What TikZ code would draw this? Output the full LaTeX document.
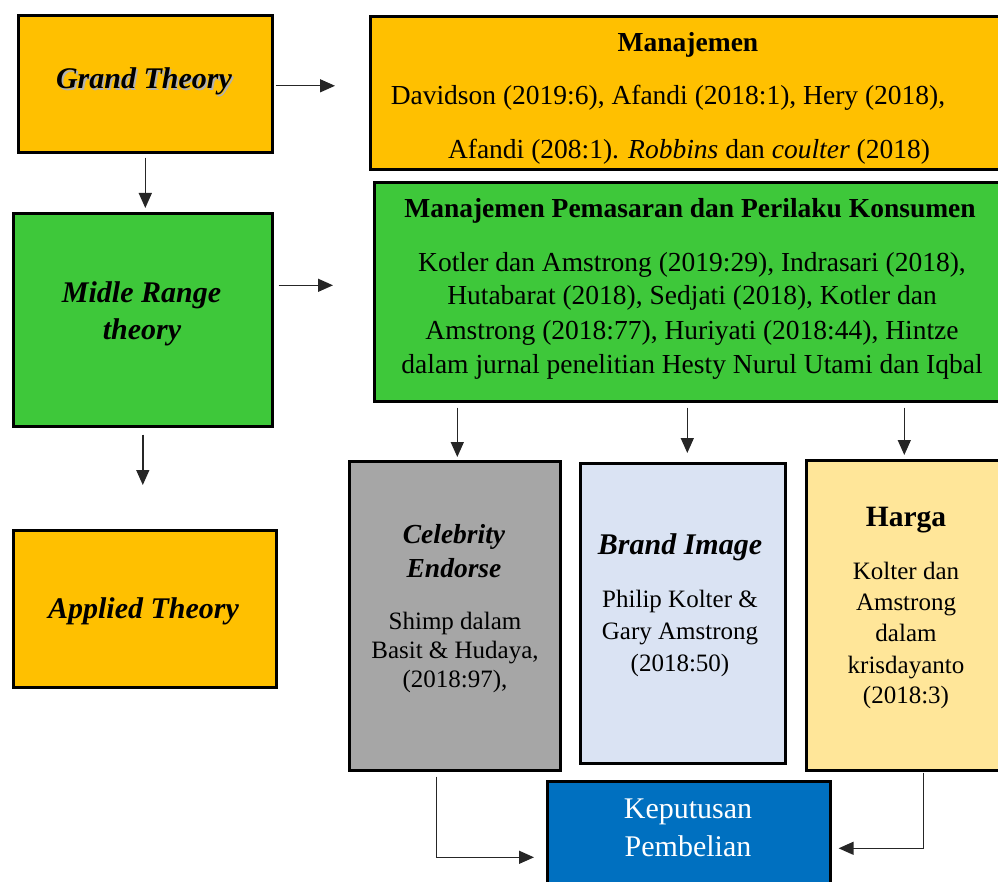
\documentclass[tikz,border=0pt]{standalone}
\usepackage{fontspec}
\setmainfont{Liberation Serif}
\usetikzlibrary{arrows.meta}
\definecolor{gold}{RGB}{255,192,0}
\definecolor{grn}{RGB}{62,200,58}
\definecolor{gry}{RGB}{166,166,166}
\definecolor{lblue}{RGB}{218,227,243}
\definecolor{lyel}{RGB}{255,230,153}
\definecolor{kblue}{RGB}{0,112,192}
\begin{document}
\begin{tikzpicture}[x=1pt,y=-1pt,
  box/.style={draw=black, line width=2.6pt, inner sep=0pt, anchor=north west},
  txt/.style={anchor=base, inner sep=0pt},
  fA/.style={font=\fontsize{30}{36}\selectfont\bfseries\itshape},
  fC/.style={font=\fontsize{27.5}{33}\selectfont\bfseries\itshape},
  fH/.style={font=\fontsize{27.5}{33}\selectfont\bfseries},
  fHH/.style={font=\fontsize{29.5}{35}\selectfont\bfseries},
  fB/.style={font=\fontsize{27.5}{33}\selectfont},
  fS/.style={font=\fontsize{25}{30}\selectfont},
  fK/.style={font=\fontsize{30}{36}\selectfont},
  arr/.style={-{Triangle[length=15pt,width=13pt]}, line width=1.4pt, draw=black!85}]
\useasboundingbox (0,0) rectangle (998,882);
\fill[white] (0,0) rectangle (998,882);

% boxes
\node[box, fill=gold, minimum width=254pt, minimum height=137pt] (gt) at (17,14) {};
\node[box, fill=gold, minimum width=636pt, minimum height=153pt] (man) at (369,15) {};
\node[box, fill=grn, minimum width=259pt, minimum height=213pt] (mid) at (12,212) {};
\node[box, fill=grn, minimum width=632pt, minimum height=219pt] (grnb) at (373,181) {};
\node[box, fill=gold, minimum width=263pt, minimum height=157pt] (app) at (12,529) {};
\node[box, fill=gry, minimum width=211pt, minimum height=309pt] (cel) at (348,460) {};
\node[box, fill=lblue, minimum width=205pt, minimum height=300pt] (brd) at (579,462) {};
\node[box, fill=lyel, minimum width=200pt, minimum height=310pt] (har) at (805,459) {};
\node[box, fill=kblue, minimum width=283pt, minimum height=120pt] (kep) at (546,780) {};

% left column texts
\node[txt, fA, text=black!30] (gtshadow) at (145.8,90.8) {Grand Theory};
\node[txt, fA] (gtt) at (144,89) {Grand Theory};
\node[txt, fA] (midt1) at (141.5,303) {Midle Range};
\node[txt, fA] (midt2) at (142,340) {theory};
\node[txt, fA] (appt) at (143.5,618) {Applied Theory};

% Manajemen
\node[txt, fH] (mant) at (688,52) {Manajemen};
\node[txt, fB] (manl1) at (668,105) {Davidson (2019:6), Afandi (2018:1), Hery (2018),};
\begin{scope}
\clip ([shift={(1.3pt,-1.3pt)}]man.north west) rectangle ([shift={(-1.3pt,1.3pt)}]man.south east);
\node[txt, fB] (manl2) at (689,159) {Afandi (208:1). \textit{Robbins} dan \textit{coulter} (2018)};
\end{scope}

% green
\node[txt, fH] (grnt) at (690,218) {Manajemen Pemasaran dan Perilaku Konsumen};
\node[txt, fB] (grnl1) at (692,272) {Kotler dan Amstrong (2019:29), Indrasari (2018),};
\node[txt, fB] (grnl2) at (692,305) {Hutabarat (2018), Sedjati (2018), Kotler dan};
\node[txt, fB] (grnl3) at (692,339) {Amstrong (2018:77), Huriyati (2018:44), Hintze};
\node[txt, fB] (grnl4) at (692,373) {dalam jurnal penelitian Hesty Nurul Utami dan Iqbal};

% celebrity
\node[txt, fC] (celt1) at (454,543) {Celebrity};
\node[txt, fC] (celt2) at (454,577) {Endorse};
\node[txt, fS] (cell1) at (455,629) {Shimp dalam};
\node[txt, fS] (cell2) at (455,658) {Basit \& Hudaya,};
\node[txt, fS] (cell3) at (455,687) {(2018:97),};

% brand
\node[txt, fA] (brdt) at (680,554) {Brand Image};
\node[txt, fS] (brdl1) at (680,607) {Philip Kolter \&};
\node[txt, fS] (brdl2) at (680,639) {Gary Amstrong};
\node[txt, fS] (brdl3) at (680,671) {(2018:50)};

% harga
\node[txt, fHH] (hart) at (906,526) {Harga};
\node[txt, fS] (harl1) at (906,579) {Kolter dan};
\node[txt, fS] (harl2) at (906,610) {Amstrong};
\node[txt, fS] (harl3) at (906,641) {dalam};
\node[txt, fS] (harl4) at (906,673) {krisdayanto};
\node[txt, fS] (harl5) at (906,703) {(2018:3)};

% keputusan
\node[txt, fK, text=white] (kept1) at (688,818) {Keputusan};
\node[txt, fK, text=white] (kept2) at (688,856) {Pembelian};

% connectors
\draw[arr, shorten <=2pt, shorten >=34pt] ([yshift=-2pt]gt.east) -- ([yshift=-2pt]gt.east -| man.west);
\draw[arr, shorten <=4pt, shorten >=4pt] (gt.south) -- (gt.south |- mid.north);
\draw[arr, shorten <=5pt, shorten >=40pt] ([yshift=34.5pt]mid.east) -- ([yshift=34.5pt]mid.east -| grnb.west);
\draw[arr, shorten <=7pt, shorten >=44pt] (mid.south) -- (mid.south |- app.north);
\draw[arr, shorten <=5pt, shorten >=3pt] ([xshift=2.5pt]cel.north |- grnb.south) -- ([xshift=2.5pt]cel.north);
\draw[arr, shorten <=5pt, shorten >=9pt] ([xshift=4.5pt]brd.north |- grnb.south) -- ([xshift=4.5pt]brd.north);
\draw[arr, shorten <=5pt, shorten >=4pt] ([xshift=-2pt]har.north |- grnb.south) -- ([xshift=-2pt]har.north);
\draw[arr, shorten <=5pt, shorten >=12pt] ([xshift=-18.5pt]cel.south) |- ([yshift=-16pt]kep.west);
\draw[arr, shorten <=1pt, shorten >=7pt] ([xshift=17pt]har.south) |- ([yshift=-7pt]kep.east);
\end{tikzpicture}
\end{document}
